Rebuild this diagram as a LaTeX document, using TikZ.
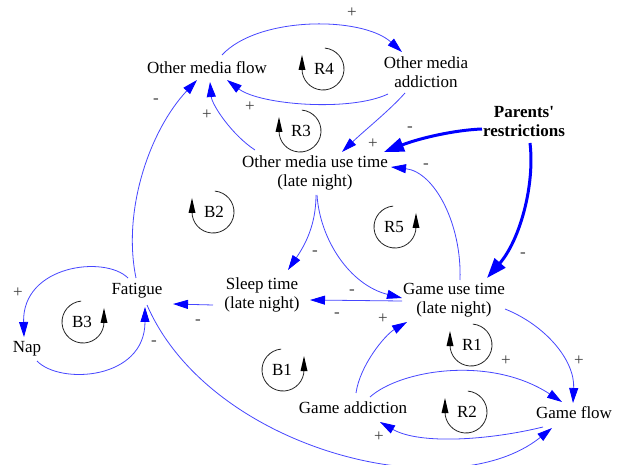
\documentclass[tikz,border=0pt]{standalone}
\usepackage{fontspec}
\setmainfont{Liberation Serif}
\usetikzlibrary{arrows.meta,calc}
\definecolor{linkblue}{RGB}{70,70,255}
\newcommand\vfnt{\fontsize{17}{19}\selectfont}
\newcommand\sgnfnt{\fontsize{17}{19}\selectfont}
\tikzset{
  var/.style={font=\vfnt, align=center, inner sep=0pt},
  sign/.style={font=\sgnfnt, text=black!75, inner sep=0pt},
  link/.style={draw=linkblue, line width=0.8pt, -{Triangle[length=15pt,width=9pt,color=blue]}},
  strong/.style={draw=blue, line width=3pt, -{Triangle[length=20pt,width=14pt]}},
  loopline/.style={draw=black!85, line width=0.8pt},
  cwloop/.pic={
    \draw[loopline] (-85:21) arc[start angle=-85,end angle=180,radius=21];
    \fill[black] (-24.5,1) -- (-17.5,1) -- (-21,-14) -- cycle;
    \node[font=\vfnt,inner sep=0pt] (-t) at (1,0) {#1};
  },
  ccwloop/.pic={
    \draw[loopline] (265:21) arc[start angle=265,end angle=0,radius=21];
    \fill[black] (17.5,1) -- (24.5,1) -- (21,-14) -- cycle;
    \node[font=\vfnt,inner sep=0pt] (-t) at (-1,0) {#1};
  },
}
\begin{document}
\begin{tikzpicture}[x=1pt,y=-1pt]
\fill[white] (0,0) rectangle (619,465);
\useasboundingbox (0,0) rectangle (619,465);

% variables
\node[var] (omf) at (207,68) {Other media flow};
\node[var] (oma) at (426,72) {Other media\\addiction};
\node[var] (omut) at (315,173) {Other media use time\\(late night)};
\node[var,font=\vfnt\bfseries] (pr) at (524,122) {Parents\textquotesingle\\restrictions};
\node[var] (st) at (262,295) {Sleep time\\(late night)};
\node[var] (gut) at (454,300) {Game use time\\(late night)};
\node[var] (fat) at (137,291) {Fatigue};
\node[var] (nap) at (27,349) {Nap};
\node[var] (ga) at (353,408) {Game addiction};
\node[var] (gf) at (574,413) {Game flow};

% connectors
\draw[link] ($(omf)+(15,-13)$) .. controls (258,16) and (362,16) .. ($(oma)+(-24,-20)$);
\draw[link] ($(oma)+(-38,22)$) .. controls (350,112) and (260,105) .. ($(omf)+(20,12)$);
\draw[link] ($(omut)+(-60,-23)$) .. controls (232,135) and (212,105) .. ($(omf)+(3,14)$);
\draw[link] ($(fat)+(-1,-13)$) .. controls (122,210) and (150,130) .. ($(omf)+(-10,12)$);
\draw[link] ($(oma)+(-21,21)$) .. controls (390,110) and (365,130) .. ($(omut)+(27,-21)$);
\draw[strong] ($(pr)+(-42,7)$) .. controls (455,130) and (420,138) .. ($(omut)+(69,-21)$);
\draw[strong] ($(pr)+(6,21)$) .. controls (535,185) and (520,240) .. ($(gut)+(33,-22)$);
\draw[link] ($(gut)+(6,-20)$) .. controls (462,225) and (435,172) .. ($(omut)+(76,-6)$);
\draw[link] ($(omut)+(1,22)$) .. controls (316,225) and (305,245) .. ($(st)+(26,-25)$);
\draw[link] ($(omut)+(2,22)$) .. controls (320,240) and (350,285) .. ($(gut)+(-52,-2)$);
\draw[link] ($(gut)+(-52,1)$) -- ($(st)+(48,5)$);
\draw[link] ($(st)+(-49,10)$) -- ($(fat)+(36,13)$);
\draw[link] ($(fat)+(-9,-13)$) .. controls (105,255) and (22,265) .. ($(nap)+(-3,-12)$);
\draw[link] ($(nap)+(10,12)$) .. controls (60,385) and (145,380) .. ($(fat)+(8,16)$);
\draw[link] ($(fat)+(10,14)$) .. controls (210,450) and (450,510) .. ($(gf)+(-22,15)$);
\draw[link] ($(ga)+(3,-15)$) .. controls (360,365) and (385,335) .. ($(gut)+(-47,22)$);
\draw[link] ($(ga)+(17,-11)$) .. controls (400,370) and (490,355) .. ($(gf)+(-12,-11)$);
\draw[link] ($(gf)+(-31,14)$) .. controls (490,440) and (420,445) .. ($(ga)+(27,14)$);
\draw[link] ($(gut)+(51,9)$) .. controls (545,325) and (575,360) .. ($(gf)+(-1,-10)$);

% polarity signs
\node[sign] (p1) at (352,13) {+};
\node[sign] (p2) at (156,101) {-};
\node[sign] (p3) at (207,115) {+};
\node[sign] (p4) at (250,107) {+};
\node[sign] (p5) at (373,144) {+};
\node[sign] (p6) at (410,129) {-};
\node[sign] (p7) at (426,166) {-};
\node[sign] (p8) at (315,253) {-};
\node[sign] (p9) at (523,255) {-};
\node[sign] (p10) at (352,292) {-};
\node[sign] (p11) at (337,315) {-};
\node[sign] (p12) at (383,319) {+};
\node[sign] (p13) at (198,322) {-};
\node[sign] (p14) at (18,293) {+};
\node[sign] (p15) at (154,343) {-};
\node[sign] (p16) at (506,361) {+};
\node[sign] (p17) at (579,361) {+};
\node[sign] (p18) at (379,437) {+};

% loop markers
\pic (r4) at (323,69) {cwloop=R4};
\pic (r3) at (300,131) {cwloop=R3};
\pic (r5) at (395,227) {ccwloop=R5};
\pic (b2) at (213,212) {cwloop=B2};
\pic (b3) at (83,322) {ccwloop=B3};
\pic (b1) at (283,370) {ccwloop=B1};
\pic (r1) at (471,345) {cwloop=R1};
\pic (r2) at (466,412) {cwloop=R2};
\end{tikzpicture}
\end{document}
